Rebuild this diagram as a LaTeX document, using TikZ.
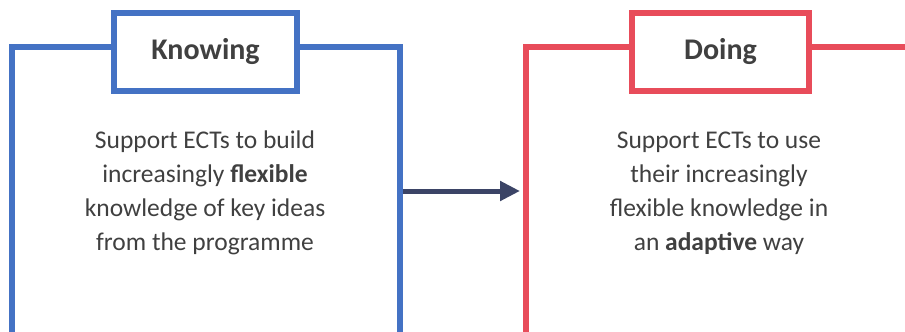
\documentclass[tikz,border=0pt]{standalone}
\usepackage{fontspec}
\setmainfont{Carlito}
\usepackage{xcolor}
\usetikzlibrary{arrows.meta}

\definecolor{knowblue}{HTML}{4472C4}
\definecolor{dored}{HTML}{E84C5A}
\definecolor{bodygrey}{HTML}{404040}
\definecolor{arrownavy}{HTML}{3B4466}

\tikzset{
  frame/.style={draw=#1, line width=6pt, minimum width=388pt, minimum height=288pt, inner sep=0pt},
  titlebox/.style={draw=#1, fill=white, line width=6pt, minimum height=78pt, inner sep=0pt,
    font=\fontsize{30}{36}\selectfont\bfseries, text=bodygrey},
  bodytext/.style={align=center, text=bodygrey, font=\fontsize{25.5}{34}\selectfont},
}

\begin{document}
\begin{tikzpicture}[x=1pt, y=-1pt]

    \useasboundingbox (0,0) rectangle (905,332);
    \clip (0,0) rectangle (905,332);

    % outer frames, open at the bottom edge
    \node[frame=knowblue] (knowframe) at (206, 191) {};
    \node[frame=dored] (doframe) at (720, 191) {};

    % headings sitting on the top edge
    \node[titlebox=knowblue, minimum width=183pt] (knowtitle) at (205.5, 52) {Knowing};
    \node[titlebox=dored, minimum width=177pt] (dotitle) at (720.5, 52) {Doing};

    \node[bodytext] (knowtext) at (205, 193)
      {Support ECTs to build\\increasingly \textbf{flexible}\\knowledge of key ideas\\from the programme};
    \node[bodytext] (dotext) at (719, 193)
      {Support ECTs to use\\their increasingly\\flexible knowledge in\\an \textbf{adaptive} way};

    \draw [arrownavy, line width=5pt, shorten >=3pt, -{Triangle[length=20pt, width=19pt]}]
      (knowframe.east) -- (doframe.west);

\end{tikzpicture}
\end{document}
